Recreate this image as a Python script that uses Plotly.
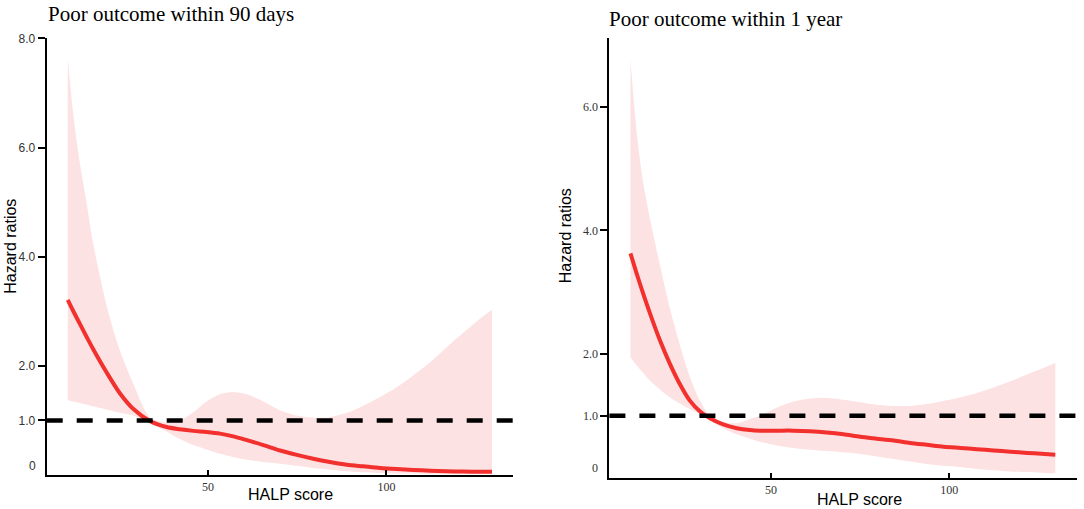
import plotly.graph_objects as go

# HALP score vs hazard ratio, poor outcome within 90 days
halp_90d = [10.7, 12.2, 14.1, 16.0, 17.8, 21.6, 25.3, 29.1, 33.7, 38.4, 42.1,
            45.9, 49.6, 53.4, 57.1, 60.9, 65.5, 70.2, 74.9, 79.5, 84.2, 88.9,
            93.6, 98.2, 102.9, 107.6, 112.3, 116.9, 121.6, 126.3, 129.6]
hr_90d = [3.21, 3.01, 2.77, 2.53, 2.31, 1.88, 1.50, 1.21, 0.99, 0.88, 0.84,
          0.81, 0.79, 0.76, 0.71, 0.64, 0.55, 0.45, 0.37, 0.30, 0.24, 0.19,
          0.16, 0.13, 0.11, 0.095, 0.08, 0.07, 0.065, 0.06, 0.06]
upper_90d = [7.64, 6.63, 5.71, 4.98, 4.25, 3.10, 2.28, 1.67, 1.06, 0.96, 1.00,
             1.15, 1.35, 1.48, 1.52, 1.48, 1.35, 1.19, 1.09, 1.05, 1.06, 1.14,
             1.27, 1.43, 1.61, 1.83, 2.07, 2.34, 2.61, 2.87, 3.03]
lower_90d = [1.37, 1.35, 1.32, 1.29, 1.26, 1.20, 1.14, 1.09, 0.95, 0.80, 0.66,
             0.55, 0.47, 0.39, 0.33, 0.28, 0.24, 0.21, 0.17, 0.13, 0.10, 0.07,
             0.05, 0.04, 0.03, 0.03, 0.02, 0.02, 0.02, 0.02, 0.02]

# poor outcome within 1 year
halp_1y = [10.6, 12.3, 14.1, 16.0, 18.8, 21.6, 24.4, 27.2, 30.1, 32.9, 36.6,
           40.4, 44.1, 46.9, 51.6, 56.3, 60.9, 65.6, 70.3, 75.0, 79.7, 84.4,
           89.0, 93.7, 98.4, 103.1, 107.7, 112.4, 117.1, 121.8, 125.8, 129.7]
hr_1y = [3.63, 3.31, 2.99, 2.67, 2.23, 1.85, 1.52, 1.25, 1.07, 0.96, 0.86,
         0.80, 0.77, 0.76, 0.76, 0.76, 0.75, 0.73, 0.70, 0.66, 0.63, 0.60,
         0.56, 0.53, 0.50, 0.48, 0.46, 0.44, 0.42, 0.40, 0.385, 0.37]
upper_1y = [6.77, 5.61, 4.80, 4.21, 3.46, 2.75, 2.16, 1.64, 1.24, 1.00, 0.90,
            0.88, 0.95, 1.00, 1.13, 1.23, 1.28, 1.29, 1.26, 1.22, 1.18, 1.16,
            1.16, 1.19, 1.24, 1.30, 1.37, 1.46, 1.56, 1.67, 1.76, 1.86]
lower_1y = [1.95, 1.82, 1.70, 1.57, 1.43, 1.30, 1.20, 1.11, 1.03, 0.93, 0.80,
            0.70, 0.63, 0.58, 0.52, 0.48, 0.45, 0.43, 0.41, 0.38, 0.34, 0.30,
            0.26, 0.22, 0.19, 0.17, 0.14, 0.12, 0.10, 0.09, 0.08, 0.07]

x_ticks = [50, 100]
y_ticks_90d = [1, 2, 4, 6, 8]
y_ticks_1y = [1, 2, 4, 6]

RED = "#f2302e"
BAND = "#fde2e3"
SERIF = "Liberation Serif, Times New Roman, serif"
SANS = "Liberation Sans, Arial, sans-serif"

W, H = 1084, 509


def px(x):
    return x / W


def py(y):
    # the photographed page comes out shifted/squeezed a little vertically,
    # so map target pixel rows back before converting to paper coords
    return 1 - ((y - 7) / 0.985) / H


fig = go.Figure()

panels = [
    (halp_90d, hr_90d, upper_90d, lower_90d, "x", "y"),
    (halp_1y, hr_1y, upper_1y, lower_1y, "x2", "y2"),
]
for xs, hr, up, lo, xa, ya in panels:
    fig.add_trace(go.Scatter(
        x=xs, y=lo, mode="lines", line=dict(width=0, shape="spline", smoothing=0.8),
        hoverinfo="skip", xaxis=xa, yaxis=ya, showlegend=False))
    fig.add_trace(go.Scatter(
        x=xs, y=up, mode="lines", fill="tonexty", fillcolor=BAND,
        line=dict(width=0, shape="spline", smoothing=0.8),
        hoverinfo="skip", xaxis=xa, yaxis=ya, showlegend=False))
    fig.add_trace(go.Scatter(
        x=xs, y=hr, mode="lines",
        line=dict(color=RED, width=4, shape="spline", smoothing=0.8),
        xaxis=xa, yaxis=ya, showlegend=False))

# reference line at HR = 1
for xa, ya in [("x", "y"), ("x2", "y2")]:
    fig.add_shape(type="line", xref=f"{xa} domain", yref=ya, x0=0, x1=1,
                  y0=1, y1=1, line=dict(color="black", width=4.5, dash="16px,14px"))

xaxis_common = dict(showline=True, linecolor="black",
                    linewidth=2, showgrid=False, zeroline=False,
                    ticks="inside", ticklen=5, tickwidth=1.5, tickcolor="black",
                    tickvals=x_ticks, tickfont=dict(family=SERIF, size=12, color="#333"))
yaxis_common = dict(showline=True, linecolor="black", linewidth=2,
                    showgrid=False, zeroline=False, ticks="outside", ticklen=7,
                    tickwidth=1.5, tickcolor="black")

fig.update_layout(
    width=W, height=H, margin=dict(l=0, r=0, t=0, b=0),
    paper_bgcolor="white", plot_bgcolor="white",
    xaxis=dict(domain=[px(46.7), px(512.7)], anchor="y", range=[4.8, 135.4],
               **xaxis_common),
    xaxis2=dict(domain=[px(609.4), px(1076.7)], anchor="y2", range=[4.7, 135.7],
                **xaxis_common),
    yaxis=dict(domain=[py(474.5), py(38.3)], anchor="x", range=[0, 8],
               tickvals=y_ticks_90d, ticktext=[f"{v:.1f}" for v in y_ticks_90d],
               tickfont=dict(family=SANS, size=12, color="#333"), **yaxis_common),
    yaxis2=dict(domain=[py(477.0), py(37.7)], anchor="x2", range=[0, 7.12],
                tickvals=y_ticks_1y, ticktext=[f"{v:.1f}" for v in y_ticks_1y],
                tickfont=dict(family=SERIF, size=12, color="#333"), **yaxis_common),
)

# "0" labels sit a little above the baseline, no tick mark
fig.add_annotation(text="0", x=0, xref="x domain", xanchor="right", xshift=-9,
                   y=0.16, yref="y", yanchor="middle", showarrow=False,
                   font=dict(family=SANS, size=12, color="#333"))
fig.add_annotation(text="0", x=0, xref="x2 domain", xanchor="right", xshift=-9,
                   y=0.15, yref="y2", yanchor="middle", showarrow=False,
                   font=dict(family=SERIF, size=12, color="#333"))

# titles
fig.add_annotation(text="Poor outcome within 90 days", x=px(46), xref="paper",
                   xanchor="left", y=py(14), yref="paper", yanchor="middle",
                   showarrow=False, font=dict(family=SERIF, size=21, color="black"))
fig.add_annotation(text="Poor outcome within 1 year", x=px(607), xref="paper",
                   xanchor="left", y=py(19), yref="paper", yanchor="middle",
                   showarrow=False, font=dict(family=SERIF, size=21, color="black"))

# axis titles
for xr, yr in [(290, 494), (859, 499)]:
    fig.add_annotation(text="HALP score", x=px(xr), y=py(yr),
                       xref="paper", yref="paper", xanchor="center",
                       yanchor="middle", showarrow=False,
                       font=dict(family=SANS, size=16, color="black"))
for xr, yr in [(10.5, 246), (565.5, 235.5)]:
    fig.add_annotation(text="Hazard ratios", x=px(xr), y=py(yr),
                       xref="paper", yref="paper", xanchor="center",
                       yanchor="middle", showarrow=False, textangle=-90,
                       font=dict(family=SANS, size=16, color="black"))

# the page body has a default 8px margin; drop it so the figure fills the window
fig.write_html("out.html", config={"displayModeBar": False},
               post_script="document.body.style.margin = '0';")
